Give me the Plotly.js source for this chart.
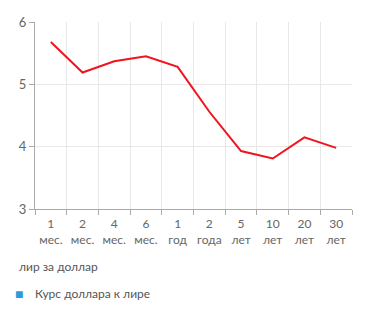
<!DOCTYPE html>
<html><head><meta charset="utf-8">
<script src="https://cdn.plot.ly/plotly-3.0.1.min.js"></script>
<style>html,body{margin:0;padding:0;background:#fff}</style>
</head><body><div id="chart" style="width:371px;height:317px"></div>
<script>
const categories = ["1<br>мес.","2<br>мес.","4<br>мес.","6<br>мес.","1<br>год","2<br>года","5<br>лет","10<br>лет","20<br>лет","30<br>лет"];
const rates = [5.68, 5.19, 5.37, 5.45, 5.28, 4.56, 3.93, 3.81, 4.15, 3.98];
const seriesName = "Курс доллара к лире";
const unitLabel = "лир за доллар";

const fontFam = "Lato, 'Open Sans', sans-serif";
const traces = [
  {x: categories, y: rates, type: "scatter", mode: "lines", name: seriesName,
   line: {color: "#f0141e", width: 2}, showlegend: false, hoverinfo: "skip"}
];
const layout = {
  width: 371, height: 317,
  margin: {l: 35, r: 19, t: 22, b: 108},
  paper_bgcolor: "#fff", plot_bgcolor: "#fff",
  font: {family: fontFam, size: 12, color: "#666"},
  xaxis: {type: "category", range: [-0.5, 9.5], tickson: "boundaries", showgrid: true, gridcolor: "#e8e8e8",
    ticks: "outside", ticklen: 5, tickcolor: "#aaa", showline: true, linecolor: "#aaa",
    ticklabelstandoff: 4, tickangle: 0,
    tickfont: {size: 12, color: "#666"}, fixedrange: true, zeroline: false},
  yaxis: {range: [3, 6], dtick: 1, showgrid: true, gridcolor: "#e8e8e8", ticks: "outside",
    ticklen: 5, tickcolor: "#aaa", showline: true, linecolor: "#aaa", zeroline: false,
    tickfont: {size: 13, color: "#666"}, fixedrange: true},
  showlegend: false,
  annotations: [
    {text: unitLabel, xref: "paper", yref: "paper", x: -0.058, xanchor: "left",
     y: -0.31, yanchor: "middle", showarrow: false, font: {size: 12, color: "#555"}},
    {text: "■", xref: "paper", yref: "paper", x: -0.0505, xanchor: "center",
     y: -0.4545, yanchor: "middle", showarrow: false, font: {size: 14, color: "#2e9bd6"}},
    {text: seriesName, xref: "paper", yref: "paper", x: -0.006, xanchor: "left",
     y: -0.4545, yanchor: "middle", showarrow: false, font: {size: 12, color: "#555"}}
  ]
};
Plotly.newPlot("chart", traces, layout, {displayModeBar: false, staticPlot: true});
</script></body></html>
